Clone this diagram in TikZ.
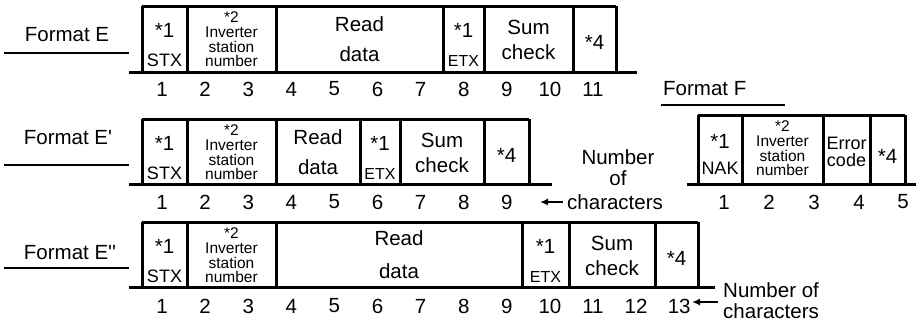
\documentclass[tikz,border=0pt]{standalone}
\usepackage{fontspec}
\newfontfamily\lsans{Liberation Sans}
\usetikzlibrary{arrows.meta}
\begin{document}
\begin{tikzpicture}[x=1pt,y=-1pt,
  big/.style={font=\lsans\fontsize{20.5}{20}\selectfont, inner sep=0pt},
  lbl/.style={font=\lsans\fontsize{20.5}{20}\selectfont, inner sep=0pt},
  inv/.style={font=\lsans\fontsize{15.5}{14.6}\selectfont, inner sep=0pt, align=center},
  mid/.style={font=\lsans\fontsize{18}{17}\selectfont, inner sep=0pt},
  errc/.style={font=\lsans\fontsize{18}{17.5}\selectfont, inner sep=0pt, align=center},
  etx/.style={font=\lsans\fontsize{16}{16}\selectfont, inner sep=0pt},
  frame/.style={line width=3pt},
  uline/.style={line width=2.5pt},
  arr/.style={line width=1.8pt, -{Latex[length=8pt,width=7pt]}}]
\useasboundingbox (0,0) rectangle (916,322);

% ---------------- Format E ----------------
\node[lbl] (e-label) at (67,35) {Format E};
\coordinate (e-ul1) at (4,53); \coordinate (e-ul2) at (129,53);
\draw[uline] (e-ul1) -- (e-ul2);
\draw[frame] (142,6) -- (616,6);
\draw[frame] (129,72) -- (637,72);
\foreach \x in {142,187,276,443,484,573,616} \draw[frame] (\x,6) -- (\x,72);
\node[big] (e-s1) at (164.5,30) {*1};
\node[mid] (e-stx) at (164.5,60) {STX};
\node[inv] (e-inv) at (231.5,39.5) {*2\\[0pt]Inverter\\station\\number};
\node[big] (e-r1) at (359.5,24) {Read};
\node[big] (e-r2) at (359.5,54) {data};
\node[big] (e-s2) at (463.5,30) {*1};
\node[etx] (e-etx) at (463.5,61) {ETX};
\node[big] (e-c1) at (528.5,27) {Sum};
\node[big] (e-c2) at (528.5,52) {check};
\node[big] (e-s4) at (594.5,42) {*4};
\foreach \n in {1,...,11} \node[big] (e-n\n) at ({162+43.1*(\n-1)},89) {\n};

% ---------------- Format F ----------------
\node[lbl, anchor=west] (f-label) at (663,89) {Format F};
\coordinate (f-ul1) at (661,105); \coordinate (f-ul2) at (785,105);
\draw[uline] (f-ul1) -- (f-ul2);
\draw[frame] (698,115) -- (905,115);
\draw[frame] (687,184) -- (916,184);
\foreach \x in {698,742,823,870,905} \draw[frame] (\x,115) -- (\x,184);
\node[big] (f-s1) at (720,141) {*1};
\node[mid] (f-nak) at (720,168) {NAK};
\node[inv] (f-inv) at (782.5,148.5) {*2\\[0pt]Inverter\\station\\number};
\node[errc] (f-err) at (846.5,152) {Error\\code};
\node[big] (f-s4) at (887.5,156) {*4};
\foreach \n/\x in {1/724,2/769,3/814,4/859,5/903} \node[big] (f-n\n) at (\x,202) {\n};

% ---------------- Format E' ----------------
\begin{scope}[shift={(0,113)}]
\node[lbl] (ep-label) at (68,25) {Format E'};
\coordinate (ep-ul1) at (4,52); \coordinate (ep-ul2) at (129,52);
\draw[uline] (ep-ul1) -- (ep-ul2);
\draw[frame] (142,6) -- (529,6);
\draw[frame] (129,71) -- (552,71);
\foreach \x in {142,187,276,360,400,484,529} \draw[frame] (\x,6) -- (\x,71);
\node[big] (ep-s1) at (164.5,30) {*1};
\node[mid] (ep-stx) at (164.5,60) {STX};
\node[inv] (ep-inv) at (231.5,39.5) {*2\\[0pt]Inverter\\station\\number};
\node[big] (ep-r1) at (318,24) {Read};
\node[big] (ep-r2) at (318,54) {data};
\node[big] (ep-s2) at (380,30) {*1};
\node[etx] (ep-etx) at (380,61) {ETX};
\node[big] (ep-c1) at (442,27) {Sum};
\node[big] (ep-c2) at (442,52) {check};
\node[big] (ep-s4) at (506.5,42) {*4};
\foreach \n in {1,...,9} \node[big] (ep-n\n) at ({162+43.1*(\n-1)},89) {\n};
\node[big] (ep-num) at (618,44) {Number};
\node[big] (ep-of) at (618,65) {of};
\node[big, anchor=west] (ep-chars) at (567,89) {characters};
\coordinate (ep-tip) at (540,89);
\draw[arr, shorten <=4pt] (ep-chars.west) -- (ep-tip);
\end{scope}

% ---------------- Format E'' ----------------
\begin{scope}[shift={(0,216)}]
\node[lbl] (epp-label) at (70,37) {Format E''};
\coordinate (epp-ul1) at (4,52); \coordinate (epp-ul2) at (129,52);
\draw[uline] (epp-ul1) -- (epp-ul2);
\draw[frame] (142,6) -- (698,6);
\draw[frame] (129,71) -- (715,71);
\foreach \x in {142,187,276,522,569,655,698} \draw[frame] (\x,6) -- (\x,71);
\node[big] (epp-s1) at (164.5,30) {*1};
\node[mid] (epp-stx) at (164.5,60) {STX};
\node[inv] (epp-inv) at (231.5,39.5) {*2\\[0pt]Inverter\\station\\number};
\node[big] (epp-r1) at (399,22) {Read};
\node[big] (epp-r2) at (399,55) {data};
\node[big] (epp-s2) at (545.5,30) {*1};
\node[etx] (epp-etx) at (545.5,61) {ETX};
\node[big] (epp-c1) at (612,27) {Sum};
\node[big] (epp-c2) at (612,52) {check};
\node[big] (epp-s4) at (676.5,42) {*4};
\foreach \n in {1,...,13} \node[big] (epp-n\n) at ({162+43.1*(\n-1)},90) {\n};
\node[big, anchor=west] (epp-t1) at (723,74) {Number of};
\node[big, anchor=west] (epp-t2) at (723,95) {characters};
\coordinate (epp-tail) at (718,86);
\coordinate (epp-tip) at (692,86);
\draw[arr] (epp-tail) -- (epp-tip);
\end{scope}
\end{tikzpicture}
\end{document}
